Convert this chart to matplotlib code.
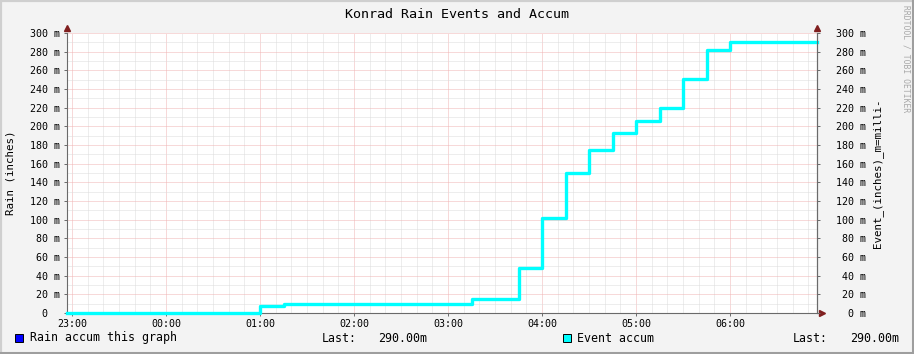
import matplotlib
matplotlib.use("Agg")
import matplotlib.pyplot as plt
import matplotlib.dates as mdates
from matplotlib.lines import Line2D
from matplotlib.patches import Rectangle
import pandas as pd

# Data: cumulative event rain (milli-inches), step changes
step_times = ["22:56:48", "01:00", "01:15", "03:15", "03:45", "04:00", "04:15",
              "04:30", "04:45", "05:00", "05:15", "05:30", "05:45", "06:00", "06:55:30"]
event_accum = [0, 7, 10, 15, 48, 102, 150, 175, 193, 206, 220, 251, 282, 290, 290]
y_ticks = [0, 20, 40, 60, 80, 100, 120, 140, 160, 180, 200, 220, 240, 260, 280, 300]

title = "Konrad Rain Events and Accum"
left_label = "Rain (inches)"
right_label = "Event_(inches)_m=milli-"
legend_items = [("Rain accum this graph", "#0000FF", "290.00m"),
                ("Event accum", "#00FFFF", "290.00m")]


def to_dt(s):
    day = "2024-01-01 " if s.startswith("22") or s.startswith("23") else "2024-01-02 "
    return pd.Timestamp(day + s)


times = [to_dt(t) for t in step_times]

W, H = 914, 354
plt.rcParams["font.family"] = ["DejaVu Sans Mono"]
fig = plt.figure(figsize=(W / 100, H / 100), dpi=100, facecolor="#F3F3F3")

# plot area in pixels
x0, x1, ytop, ybot = 67, 817, 33, 313
ax = fig.add_axes([x0 / W, 1 - ybot / H, (x1 - x0) / W, (ybot - ytop) / H])
ax.set_facecolor("white")

ax.step(times, event_accum, where="post", color="#00FFFF", lw=2.4, zorder=5, clip_on=False)

ax.set_xlim(times[0], times[-1])
ax.set_ylim(0, 300)

ax.xaxis.set_major_locator(mdates.HourLocator())
ax.xaxis.set_minor_locator(mdates.MinuteLocator(byminute=range(0, 60, 10)))
ax.xaxis.set_major_formatter(mdates.DateFormatter("%H:%M"))
ax.set_yticks(y_ticks)
ax.set_yticks(range(0, 301, 10), minor=True)
ax.set_yticklabels(["0  " if v == 0 else f"{v} m" for v in y_ticks])

dots = (0, (1, 1))
ax.grid(which="minor", color="#dcdcdc", lw=0.72, linestyle=dots)
ax.grid(which="major", color="#f0b4b4", lw=0.72, linestyle=dots)
ax.set_axisbelow(True)

ax.spines["top"].set_visible(False)
for s in ["left", "right", "bottom"]:
    ax.spines[s].set_color("#6a6a6a")
    ax.spines[s].set_linewidth(0.8)

ax.tick_params(which="major", direction="out", length=2, width=0.7, color="#6a6a6a",
               labelsize=7.2, pad=3)
ax.tick_params(which="minor", length=0)
ax.tick_params(axis="x", pad=2.5)

ax2 = ax.twinx()
ax2.set_ylim(0, 300)
ax2.set_yticks(y_ticks)
ax2.set_yticklabels([f"{v} m" for v in y_ticks])
ax2.tick_params(direction="out", length=2, width=0.7, color="#6a6a6a", labelsize=7.2, pad=33)
plt.setp(ax2.get_yticklabels(), ha="right")
for s in ["top", "left", "bottom"]:
    ax2.spines[s].set_visible(False)
ax2.spines["right"].set_color("#6a6a6a")
ax2.spines["right"].set_linewidth(0.8)

# arrows at axis ends
arrow_c = "#801f1f"
ax.plot([0], [1.018], marker="^", ms=4, color=arrow_c, transform=ax.transAxes, clip_on=False)
ax.plot([1], [1.018], marker="^", ms=4, color=arrow_c, transform=ax.transAxes, clip_on=False)
ax.plot([1.006], [0], marker=">", ms=4, color=arrow_c, transform=ax.transAxes, clip_on=False)

# axis labels
fig.text(11 / W, 1 - 173 / H, left_label, rotation=90, ha="center", va="center", fontsize=7.8)
fig.text(878 / W, 1 - 173 / H, right_label, rotation=90, ha="center", va="center", fontsize=7.8)

# title and watermark
fig.text(0.5, 1 - 14 / H, title, ha="center", va="center", fontsize=9.6)
fig.text(906 / W, 1 - 5 / H, "RRDTOOL / TOBI OETIKER", rotation=270, ha="center", va="top",
         fontsize=5.8, color="#a8a8a8")

# legend row
ly = 338
sq_x = [15, 563]
txt_x = [30, 577]
last_x = [322, 793]
val_x = [378, 850]
for (lab, col, last), sx, tx, lx, vx in zip(legend_items, sq_x, txt_x, last_x, val_x):
    fig.patches.append(Rectangle((sx / W, 1 - (ly + 4) / H), 8 / W, 8 / H, facecolor=col,
                                 edgecolor="black", lw=0.7, transform=fig.transFigure))
    fig.text(tx / W, 1 - ly / H, lab, ha="left", va="center", fontsize=8.4)
    fig.text(lx / W, 1 - ly / H, "Last:", ha="left", va="center", fontsize=8.4)
    fig.text(vx / W, 1 - ly / H, last, ha="left", va="center", fontsize=8.4)

# 3D frame
fr = fig.transFigure
fig.lines.append(Line2D([0, 1], [1 - 1 / H, 1 - 1 / H], color="#CFCFCF", lw=1.6, transform=fr))
fig.lines.append(Line2D([1 / W, 1 / W], [0, 1], color="#CFCFCF", lw=1.6, transform=fr))
fig.lines.append(Line2D([0, 1], [1.5 / H, 1.5 / H], color="#9E9E9E", lw=2.2, transform=fr))
fig.lines.append(Line2D([1 - 1.5 / W, 1 - 1.5 / W], [0, 1], color="#9E9E9E", lw=2.2, transform=fr))

fig.savefig("out.png", dpi=100, facecolor=fig.get_facecolor())
